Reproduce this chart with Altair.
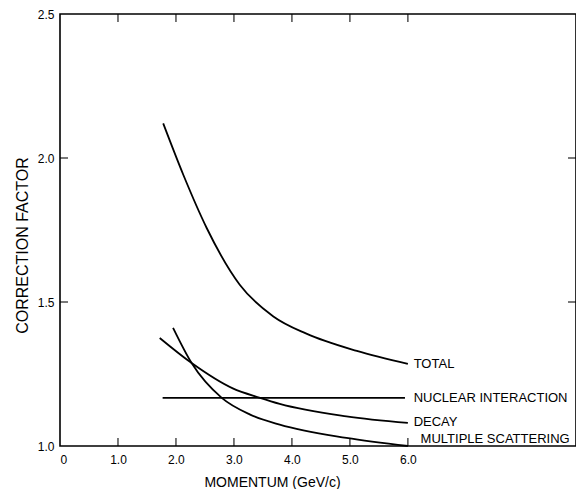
import altair as alt
import pandas as pd

# ---- data ----
total_x = [1.78, 2.13, 2.53, 3.10, 3.68, 4.25, 5.12, 6.00]
total_y = [2.12, 1.94, 1.757, 1.56, 1.45, 1.39, 1.33, 1.285]

nuclear_x = [1.77, 5.95]
nuclear_y = [1.167, 1.167]

decay_x = [1.72, 2.27, 2.98, 3.45, 3.79, 4.94, 6.00]
decay_y = [1.375, 1.288, 1.20, 1.167, 1.146, 1.103, 1.08]

ms_x = [1.95, 2.27, 2.79, 3.28, 3.79, 4.94, 6.00]
ms_y = [1.41, 1.288, 1.167, 1.109, 1.074, 1.028, 1.0]

label_text = ["TOTAL", "NUCLEAR INTERACTION", "DECAY", "MULTIPLE SCATTERING"]
label_x = [6.1, 6.1, 6.1, 6.22]
label_y = [1.285, 1.167, 1.083, 1.026]

x_ticks = [1, 2, 3, 4, 5, 6]
x_labels = [0, 1, 2, 3, 4, 5, 6]
y_ticks = [1.5, 2.0]
y_labels = [1.0, 1.5, 2.0, 2.5]

W, H = 516, 432
FONT = "Liberation Sans"

rows = []
for name, xs, ys in [("TOTAL", total_x, total_y), ("NUCLEAR", nuclear_x, nuclear_y),
                     ("DECAY", decay_x, decay_y), ("MS", ms_x, ms_y)]:
    for a, b in zip(xs, ys):
        rows.append({"series": name, "p": a, "f": b})
curves = pd.DataFrame(rows)
labels = pd.DataFrame({"text": label_text, "p": label_x, "f": label_y})
xt = pd.DataFrame({"p": x_ticks})
yt = pd.DataFrame({"f": y_ticks})

xscale = alt.Scale(domain=[0, 8.9], nice=False, zero=False)
yscale = alt.Scale(domain=[1.0, 2.5], nice=False, zero=False)

xaxis = alt.Axis(values=x_labels, ticks=False, domain=False, grid=False,
                 labelExpr="datum.value == 0 ? '0' : format(datum.value, '.1f')",
                 labelPadding=8, labelFontSize=12, labelFont=FONT, labelColor="black",
                 title="MOMENTUM  (GeV/c)", titleFont=FONT, titleFontSize=14,
                 titleFontWeight="normal", titleColor="black",
                 titleX=212, titleY=40, titleAlign="center", titleBaseline="alphabetic")
yaxis = alt.Axis(values=y_labels, ticks=False, domain=False, grid=False, format=".1f",
                 labelPadding=6, labelFontSize=12, labelFont=FONT, labelColor="black",
                 title="CORRECTION FACTOR", titleFont=FONT, titleFontSize=16,
                 titleFontWeight="normal", titleColor="black",
                 titleX=-38, titleY=231, titleAlign="center", titleBaseline="middle")

X = alt.X("p:Q", scale=xscale, axis=xaxis)
Y = alt.Y("f:Q", scale=yscale, axis=yaxis)

lines = alt.Chart(curves).mark_line(color="black", strokeWidth=1.8, interpolate="monotone").encode(
    x=X, y=Y, detail="series:N")

text = alt.Chart(labels).mark_text(align="left", baseline="middle", font=FONT, fontSize=13,
                                   color="black").encode(x=X, y=Y, text="text:N")

bottom_ticks = alt.Chart(xt).mark_tick(orient="vertical", size=8, thickness=1.5, color="black").encode(
    x=X, y=alt.value(H - 4))
top_ticks = alt.Chart(xt).mark_tick(orient="vertical", size=8, thickness=1.5, color="black").encode(
    x=X, y=alt.value(4))
left_ticks = alt.Chart(yt).mark_tick(orient="horizontal", size=8, thickness=1.5, color="black").encode(
    y=Y, x=alt.value(4))
right_ticks = alt.Chart(yt).mark_tick(orient="horizontal", size=8, thickness=1.5, color="black").encode(
    y=Y, x=alt.value(W - 4))

chart = alt.layer(lines, text, bottom_ticks, top_ticks, left_ticks, right_ticks).properties(
    width=W, height=H,
    background="white",
    autosize=alt.AutoSizeParams(type="none"),
    padding={"left": 52, "top": 6, "right": 0, "bottom": 43},
).configure_view(stroke="black", strokeWidth=1.6)

chart.save("out.html", embed_options={"renderer": "svg", "actions": False})
